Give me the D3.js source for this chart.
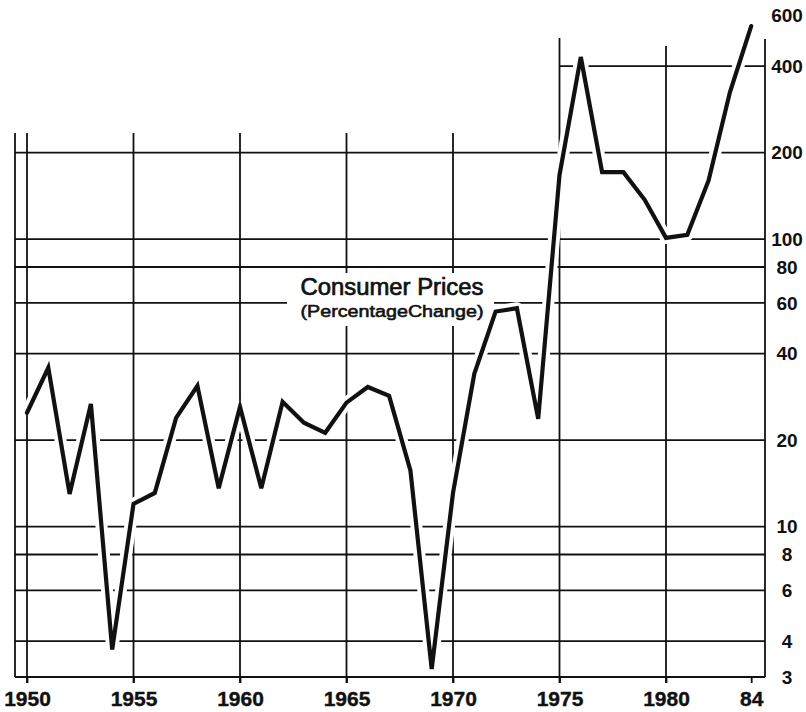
<!DOCTYPE html>
<html>
<head>
<meta charset="utf-8">
<script src="https://cdn.jsdelivr.net/npm/d3@7"></script>
<style>
  html, body { margin: 0; padding: 0; background: #fff; }
  svg { display: block; }
</style>
</head>
<body>
<div id="chart"></div>
<script>
// --- DATA ---
const years = [1950, 1951, 1952, 1953, 1954, 1955, 1956, 1957, 1958, 1959,
               1960, 1961, 1962, 1963, 1964, 1965, 1966, 1967, 1968, 1969,
               1970, 1971, 1972, 1973, 1974, 1975, 1976, 1977, 1978, 1979,
               1980, 1981, 1982, 1983, 1984];
const consumerPrices = [24.9, 35.7, 13.0, 26.7, 3.74, 12.0, 13.1, 23.9, 30.9, 13.6,
                        26.1, 13.6, 27.2, 23.0, 21.2, 27.0, 30.6, 28.5, 15.7, 3.2,
                        13.1, 34.0, 56, 57.5, 23.7, 167, 430, 171, 171, 137,
                        101, 103.5, 160, 324, 551];

const xTicks = [1950, 1955, 1960, 1965, 1970, 1975, 1980, 1984];
const xTickLabels = ['1950', '1955', '1960', '1965', '1970', '1975', '1980', '84'];
const yTicks = [3, 4, 6, 8, 10, 20, 40, 60, 80, 100, 200, 400, 600];
const yGridLevels = [4, 6, 8, 10, 20, 40, 60, 80, 100, 200];   // full-width rules
const yGridUpper = [400];                                       // only right of 1975
const vGridYears = [1950, 1955, 1960, 1965, 1970, 1975, 1980];

const titleLines = ['Consumer Prices', '(PercentageChange)'];

// --- DIMENSIONS ---
const W = 806, H = 712;
const frame = { left: 15, right: 765, bottom: 677 };
const topLow = 133;      // top of the grid left of 1975
const topHigh = 39;      // top of the grid from 1975 on

const svg = d3.select('#chart').append('svg')
  .attr('width', W).attr('height', H);

svg.append('rect').attr('width', W).attr('height', H).attr('fill', '#fff');

// --- SCALES ---
const x = d3.scaleLinear().domain([1950, 1980]).range([27, 666]);
const y = d3.scaleLog().domain([3, 600]).range([frame.bottom, 15.4]);

const ink = '#111';
const font = '"Liberation Sans", Arial, sans-serif';
const grid = svg.append('g').attr('stroke', ink).attr('stroke-width', 1.8).attr('fill', 'none');

// horizontal rules
grid.selectAll('line.h')
  .data(yGridLevels)
  .join('line')
  .attr('x1', frame.left).attr('x2', frame.right)
  .attr('y1', d => y(d)).attr('y2', d => y(d));

grid.selectAll('line.hu')
  .data(yGridUpper)
  .join('line')
  .attr('x1', x(1975)).attr('x2', frame.right)
  .attr('y1', d => y(d)).attr('y2', d => y(d));

// vertical rules (stick out a little below the frame)
const vTop = { 1975: 38, 1980: 46 };
grid.selectAll('line.v')
  .data(vGridYears)
  .join('line')
  .attr('x1', d => x(d)).attr('x2', d => x(d))
  .attr('y1', d => vTop[d] || topLow)
  .attr('y2', frame.bottom + 6);

// frame: bottom rule, left and right borders
grid.append('line')
  .attr('x1', frame.left).attr('x2', frame.right)
  .attr('y1', frame.bottom).attr('y2', frame.bottom);
grid.append('line')
  .attr('x1', frame.left).attr('x2', frame.left)
  .attr('y1', topLow).attr('y2', frame.bottom);
grid.append('line')
  .attr('x1', frame.right).attr('x2', frame.right)
  .attr('y1', topHigh).attr('y2', frame.bottom);

// --- AXES ---
const xAxis = svg.append('g')
  .attr('transform', `translate(0,${frame.bottom})`)
  .call(d3.axisBottom(x)
    .tickValues(xTicks)
    .tickFormat((d, i) => xTickLabels[i])
    .tickSize(6)
    .tickPadding(8));
xAxis.select('.domain').remove();
xAxis.selectAll('line').attr('stroke', ink).attr('stroke-width', 1.8);
xAxis.selectAll('text')
  .attr('fill', ink)
  .attr('stroke', ink).attr('stroke-width', 0.4)
  .style('font-family', font)
  .style('font-size', '21px')
  .style('font-weight', 'bold');

const yAxis = svg.append('g')
  .attr('transform', `translate(${frame.right},0)`)
  .call(d3.axisRight(y)
    .tickValues(yTicks)
    .tickFormat(d3.format('d'))
    .tickSize(0)
    .tickPadding(22));
yAxis.select('.domain').remove();
yAxis.selectAll('text')
  .attr('fill', ink)
  .attr('text-anchor', 'middle')
  .style('font-family', font)
  .style('font-size', '19px')
  .style('font-weight', 'bold');

// --- LABEL (white patch hides the rules behind it) ---
svg.append('rect')
  .attr('x', 287).attr('y', 273)
  .attr('width', 207).attr('height', 53)
  .attr('fill', '#fff');

svg.append('text')
  .attr('x', 392).attr('y', 295)
  .attr('text-anchor', 'middle')
  .attr('textLength', 183).attr('lengthAdjust', 'spacingAndGlyphs')
  .attr('fill', ink)
  .attr('stroke', ink).attr('stroke-width', 0.7)
  .style('font-family', font)
  .style('font-size', '23px')
  .text(titleLines[0]);

svg.append('text')
  .attr('x', 392).attr('y', 317)
  .attr('text-anchor', 'middle')
  .attr('textLength', 183).attr('lengthAdjust', 'spacingAndGlyphs')
  .attr('fill', ink)
  .attr('stroke', ink).attr('stroke-width', 0.6)
  .style('font-family', font)
  .style('font-size', '17px')
  .text(titleLines[1]);

// --- SERIES ---
const series = years.map((yr, i) => ({ year: yr, value: consumerPrices[i] }));
const line = d3.line().x(d => x(d.year)).y(d => y(d.value));

// white halo breaks the rules where the line crosses them
svg.append('path')
  .datum(series)
  .attr('d', line)
  .attr('fill', 'none')
  .attr('stroke', '#fff')
  .attr('stroke-width', 12)
  .attr('stroke-linejoin', 'round');

svg.append('path')
  .datum(series)
  .attr('d', line)
  .attr('fill', 'none')
  .attr('stroke', ink)
  .attr('stroke-width', 4.2)
  .attr('stroke-linejoin', 'miter')
  .attr('stroke-linecap', 'round');
</script>
</body>
</html>
